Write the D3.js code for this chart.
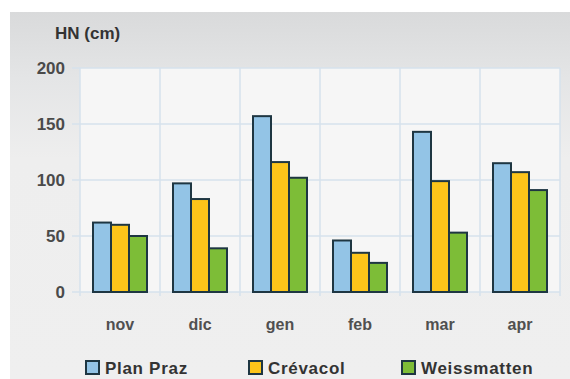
<!DOCTYPE html>
<html>
<head>
<meta charset="utf-8">
<script src="https://cdn.jsdelivr.net/npm/d3@7"></script>
<style>
  body { margin: 0; background: #ffffff; }
  svg { display: block; font-family: "Liberation Sans", Arial, sans-serif; }
</style>
</head>
<body>
<div id="chart"></div>
<script>
// mesi
const months = ['nov', 'dic', 'gen', 'feb', 'mar', 'apr'];
// stazioni
const stations = ['Plan Praz', 'Crévacol', 'Weissmatten'];
// HN (cm) per stazione
const planPraz = [62, 97, 157, 46, 143, 115];
const crevacol = [60, 83, 116, 35, 99, 107];
const weissmatten = [50, 39, 102, 26, 53, 91];
const yTicks = [0, 50, 100, 150, 200];

const colors = ['#93c4e6', '#fdc51a', '#7dbd37'];
const seriesValues = [planPraz, crevacol, weissmatten];

const W = 570, H = 379;
let svg = d3.select('#chart').append('svg').attr('width', W).attr('height', H);

// sfondo grigio con sfumatura in alto
let defs = svg.append('defs');
let grad = defs.append('linearGradient').attr('id', 'bg').attr('x1', 0).attr('y1', 0).attr('x2', 0).attr('y2', 1);
grad.append('stop').attr('offset', '0%').attr('stop-color', '#d9dadb');
grad.append('stop').attr('offset', '18%').attr('stop-color', '#e4e5e6');
grad.append('stop').attr('offset', '40%').attr('stop-color', '#eeeeee');
grad.append('stop').attr('offset', '100%').attr('stop-color', '#efefef');
svg.append('rect').attr('x', 10).attr('y', 12).attr('width', W - 10).attr('height', H - 12).attr('fill', 'url(#bg)');

const plot = {left: 80, right: 560, top: 68, bottom: 292};

let x0 = d3.scaleBand().domain(months).range([plot.left, plot.right]);
let x1 = d3.scaleBand().domain(stations).range([13, 67]);
let y = d3.scaleLinear().domain([0, 200]).range([plot.bottom, plot.top]);

// area del grafico
svg.append('rect')
    .attr('x', plot.left).attr('y', plot.top)
    .attr('width', plot.right - plot.left).attr('height', plot.bottom - plot.top)
    .attr('fill', '#f6f6f6');

// griglia orizzontale
svg.append('g').selectAll('line').data(yTicks).enter().append('line')
    .attr('x1', plot.left - 8).attr('x2', plot.right)
    .attr('y1', d => y(d)).attr('y2', d => y(d))
    .attr('stroke', '#d6e2ec').attr('stroke-width', 1.5);

// griglia verticale (bordi delle categorie)
let edges = months.map(m => x0(m)).concat([plot.right]);
svg.append('g').selectAll('line').data(edges).enter().append('line')
    .attr('x1', d => d).attr('x2', d => d)
    .attr('y1', plot.top).attr('y2', plot.bottom + 4)
    .attr('stroke', '#d6e2ec').attr('stroke-width', 1.5);

// etichette asse y
svg.append('g').selectAll('text').data(yTicks).enter().append('text')
    .attr('x', 65).attr('y', d => y(d))
    .attr('dy', '0.35em')
    .attr('text-anchor', 'end')
    .attr('font-size', 17).attr('font-weight', 'bold')
    .attr('fill', '#4a4a4a')
    .text(d => d);

// titolo asse
svg.append('text')
    .attr('x', 55).attr('y', 39)
    .attr('font-size', 17).attr('font-weight', 'bold')
    .attr('fill', '#333')
    .text('HN (cm)');

// barre
let groups = svg.append('g').selectAll('g').data(months).enter().append('g')
    .attr('transform', d => 'translate(' + x0(d) + ',0)');
groups.selectAll('rect')
    .data((m, i) => stations.map((s, j) => ({s: s, v: seriesValues[j][i], c: colors[j]})))
    .enter().append('rect')
    .attr('x', d => x1(d.s))
    .attr('y', d => y(d.v))
    .attr('width', x1.bandwidth())
    .attr('height', d => y(0) - y(d.v))
    .attr('fill', d => d.c)
    .attr('stroke', '#1e3642')
    .attr('stroke-width', 2);

// etichette asse x
svg.append('g').selectAll('text').data(months).enter().append('text')
    .attr('x', d => x0(d) + x0.bandwidth() / 2)
    .attr('y', 330)
    .attr('text-anchor', 'middle')
    .attr('font-size', 16).attr('font-weight', 'bold')
    .attr('fill', '#505050')
    .text(d => d);

// legenda
const legendX = [85, 248, 401];
let legend = svg.append('g').selectAll('g').data(stations).enter().append('g')
    .attr('transform', (d, i) => 'translate(' + legendX[i] + ',360)');
legend.append('rect')
    .attr('x', 1).attr('y', 1).attr('width', 13).attr('height', 13)
    .attr('fill', (d, i) => colors[i])
    .attr('stroke', '#1e3642').attr('stroke-width', 2);
legend.append('text')
    .attr('x', 20).attr('y', 14)
    .attr('font-size', 17).attr('font-weight', 'bold')
    .attr('letter-spacing', 0.7)
    .attr('fill', '#333')
    .text(d => d);
</script>
</body>
</html>
